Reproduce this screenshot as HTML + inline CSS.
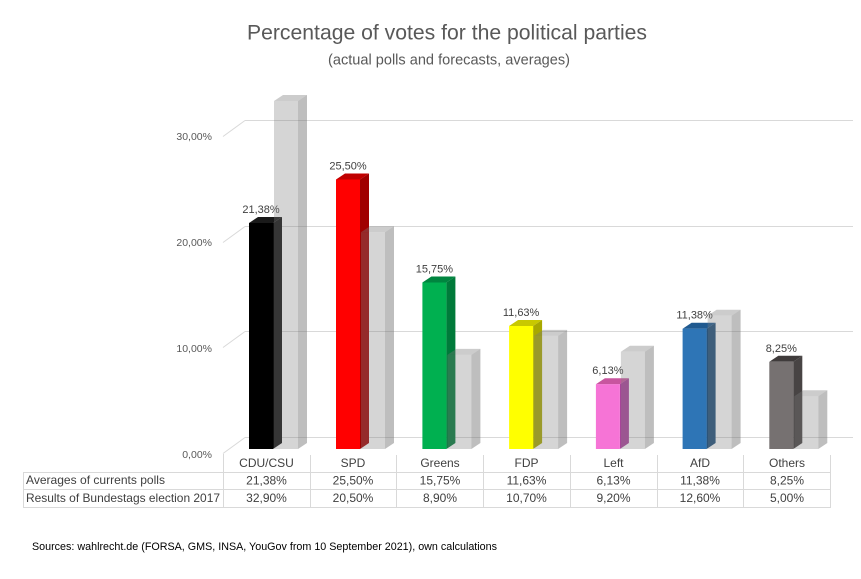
<!DOCTYPE html>
<html><head><meta charset="utf-8"><style>
html,body{margin:0;padding:0;background:#fff;}
svg{display:block;}
text{font-family:"Liberation Sans",Arial,sans-serif;}
</style></head><body>
<svg width="861" height="579" viewBox="0 0 861 579" xmlns="http://www.w3.org/2000/svg">
<rect width="861" height="579" fill="#fff"/>
<text x="447" y="39.5" font-size="21" fill="#595959" text-anchor="middle" textLength="400" lengthAdjust="spacingAndGlyphs">Percentage of votes for the political parties</text>
<text x="449" y="64.5" font-size="14.5" fill="#595959" text-anchor="middle" textLength="242" lengthAdjust="spacingAndGlyphs">(actual polls and forecasts, averages)</text>

<g stroke="#d9d9d9" stroke-width="1" fill="none">
<line x1="245" y1="120.5" x2="853" y2="120.5"/><line x1="223" y1="136.5" x2="245" y2="120.5"/>
<line x1="245" y1="226.5" x2="853" y2="226.5"/><line x1="223" y1="242.5" x2="245" y2="226.5"/>
<line x1="245" y1="331.5" x2="853" y2="331.5"/><line x1="223" y1="347.5" x2="245" y2="331.5"/>
<line x1="245" y1="437.5" x2="853" y2="437.5"/><line x1="223" y1="453.5" x2="245" y2="437.5"/>
</g>
<g font-size="10.5" fill="#595959" text-anchor="end">
<text x="212" y="140">30,00%</text>
<text x="212" y="246">20,00%</text>
<text x="212" y="352">10,00%</text>
<text x="212" y="458">0,00%</text>
</g>

<g stroke="#d9d9d9" stroke-width="1">
<line x1="23" y1="472.5" x2="830" y2="472.5"/>
<line x1="23" y1="489.5" x2="830" y2="489.5"/>
<line x1="23" y1="507.5" x2="830" y2="507.5"/>
<line x1="23.5" y1="472" x2="23.5" y2="508"/>
<line x1="223.5" y1="454" x2="223.5" y2="508"/>
<line x1="310.5" y1="455" x2="310.5" y2="508"/>
<line x1="396.5" y1="455" x2="396.5" y2="508"/>
<line x1="483.5" y1="455" x2="483.5" y2="508"/>
<line x1="570.5" y1="455" x2="570.5" y2="508"/>
<line x1="657.5" y1="455" x2="657.5" y2="508"/>
<line x1="743.5" y1="455" x2="743.5" y2="508"/>
<line x1="830.5" y1="455" x2="830.5" y2="508"/>
</g>
<g font-size="12" fill="#404040">
<text x="26" y="484" textLength="139" lengthAdjust="spacingAndGlyphs">Averages of currents polls</text>
<text x="26" y="502" textLength="194" lengthAdjust="spacingAndGlyphs">Results of Bundestags election 2017</text>
</g>
<g font-size="12" fill="#404040" text-anchor="middle">
<text x="266.5" y="467">CDU/CSU</text><text x="266.5" y="484.5">21,38%</text><text x="266.5" y="502">32,90%</text>
<text x="353" y="467">SPD</text><text x="353" y="484.5">25,50%</text><text x="353" y="502">20,50%</text>
<text x="440" y="467">Greens</text><text x="440" y="484.5">15,75%</text><text x="440" y="502">8,90%</text>
<text x="526.5" y="467">FDP</text><text x="526.5" y="484.5">11,63%</text><text x="526.5" y="502">10,70%</text>
<text x="613.5" y="467">Left</text><text x="613.5" y="484.5">6,13%</text><text x="613.5" y="502">9,20%</text>
<text x="700" y="467">AfD</text><text x="700" y="484.5">11,38%</text><text x="700" y="502">12,60%</text>
<text x="787" y="467">Others</text><text x="787" y="484.5">8,25%</text><text x="787" y="502">5,00%</text>
</g>

<text x="32" y="550" font-size="11" fill="#000" textLength="465" lengthAdjust="spacingAndGlyphs">Sources: wahlrecht.de (FORSA, GMS, INSA,  YouGov from 10 September 2021), own calculations</text>

<g>
<polygon points="249,223 273,223 282,217 258,217" fill="#1a1a1a"/>
<polygon points="273,223 282,217 282,443 273,449" fill="#111"/>
<rect x="249" y="223" width="24" height="226" fill="#000"/>
<text x="261" y="213" font-size="11" fill="#404040" text-anchor="middle">21,38%</text>
<polygon points="274,101 298,101 307,95 283,95" fill="rgba(120,120,120,0.38)"/>
<polygon points="298,101 307,95 307,443 298,449" fill="rgba(110,110,110,0.45)"/>
<rect x="274" y="101" width="24" height="348" fill="rgba(128,128,128,0.33)"/>
</g>
<g>
<polygon points="336,179.5 360,179.5 369,173.5 345,173.5" fill="#c00000"/>
<polygon points="360,179.5 369,173.5 369,443 360,449" fill="#a00000"/>
<rect x="336" y="179.5" width="24" height="269.5" fill="#ff0000"/>
<text x="348" y="169.5" font-size="11" fill="#404040" text-anchor="middle">25,50%</text>
<polygon points="361,232.3 385,232.3 394,226.3 370,226.3" fill="rgba(120,120,120,0.38)"/>
<polygon points="385,232.3 394,226.3 394,443 385,449" fill="rgba(110,110,110,0.45)"/>
<rect x="361" y="232.3" width="24" height="216.7" fill="rgba(128,128,128,0.33)"/>
</g>
<g>
<polygon points="422.4,282.5 446.4,282.5 455.4,276.5 431.4,276.5" fill="#00853f"/>
<polygon points="446.4,282.5 455.4,276.5 455.4,443 446.4,449" fill="#007a3a"/>
<rect x="422.4" y="282.5" width="24" height="166.5" fill="#00b050"/>
<text x="434.4" y="272.5" font-size="11" fill="#404040" text-anchor="middle">15,75%</text>
<polygon points="447.4,354.9 471.4,354.9 480.4,348.9 456.4,348.9" fill="rgba(120,120,120,0.38)"/>
<polygon points="471.4,354.9 480.4,348.9 480.4,443 471.4,449" fill="rgba(110,110,110,0.45)"/>
<rect x="447.4" y="354.9" width="24" height="94.1" fill="rgba(128,128,128,0.33)"/>
</g>
<g>
<polygon points="509.1,326 533.1,326 542.1,320 518.1,320" fill="#c8c800"/>
<polygon points="533.1,326 542.1,320 542.1,443 533.1,449" fill="#a8a800"/>
<rect x="509.1" y="326" width="24" height="123" fill="#ffff00"/>
<text x="521.1" y="316" font-size="11" fill="#404040" text-anchor="middle">11,63%</text>
<polygon points="534.1,335.9 558.1,335.9 567.1,329.9 543.1,329.9" fill="rgba(120,120,120,0.38)"/>
<polygon points="558.1,335.9 567.1,329.9 567.1,443 558.1,449" fill="rgba(110,110,110,0.45)"/>
<rect x="534.1" y="335.9" width="24" height="113.1" fill="rgba(128,128,128,0.33)"/>
</g>
<g>
<polygon points="595.9,384.2 619.9,384.2 628.9,378.2 604.9,378.2" fill="#c8559f"/>
<polygon points="619.9,384.2 628.9,378.2 628.9,443 619.9,449" fill="#a9429a"/>
<rect x="595.9" y="384.2" width="24" height="64.8" fill="#f674d6"/>
<text x="607.9" y="374.2" font-size="11" fill="#404040" text-anchor="middle">6,13%</text>
<polygon points="620.9,351.8 644.9,351.8 653.9,345.8 629.9,345.8" fill="rgba(120,120,120,0.38)"/>
<polygon points="644.9,351.8 653.9,345.8 653.9,443 644.9,449" fill="rgba(110,110,110,0.45)"/>
<rect x="620.9" y="351.8" width="24" height="97.2" fill="rgba(128,128,128,0.33)"/>
</g>
<g>
<polygon points="682.6,328.7 706.6,328.7 715.6,322.7 691.6,322.7" fill="#205a90"/>
<polygon points="706.6,328.7 715.6,322.7 715.6,443 706.6,449" fill="#1f4e79"/>
<rect x="682.6" y="328.7" width="24" height="120.3" fill="#2e75b6"/>
<text x="694.6" y="318.7" font-size="11" fill="#404040" text-anchor="middle">11,38%</text>
<polygon points="707.6,315.8 731.6,315.8 740.6,309.8 716.6,309.8" fill="rgba(120,120,120,0.38)"/>
<polygon points="731.6,315.8 740.6,309.8 740.6,443 731.6,449" fill="rgba(110,110,110,0.45)"/>
<rect x="707.6" y="315.8" width="24" height="133.2" fill="rgba(128,128,128,0.33)"/>
</g>
<g>
<polygon points="769.3,361.8 793.3,361.8 802.3,355.8 778.3,355.8" fill="#3f3b3b"/>
<polygon points="793.3,361.8 802.3,355.8 802.3,443 793.3,449" fill="#484444"/>
<rect x="769.3" y="361.8" width="24" height="87.2" fill="#767171"/>
<text x="781.3" y="351.8" font-size="11" fill="#404040" text-anchor="middle">8,25%</text>
<polygon points="794.3,396.2 818.3,396.2 827.3,390.2 803.3,390.2" fill="rgba(120,120,120,0.38)"/>
<polygon points="818.3,396.2 827.3,390.2 827.3,443 818.3,449" fill="rgba(110,110,110,0.45)"/>
<rect x="794.3" y="396.2" width="24" height="52.8" fill="rgba(128,128,128,0.33)"/>
</g>
</svg>
</body></html>
